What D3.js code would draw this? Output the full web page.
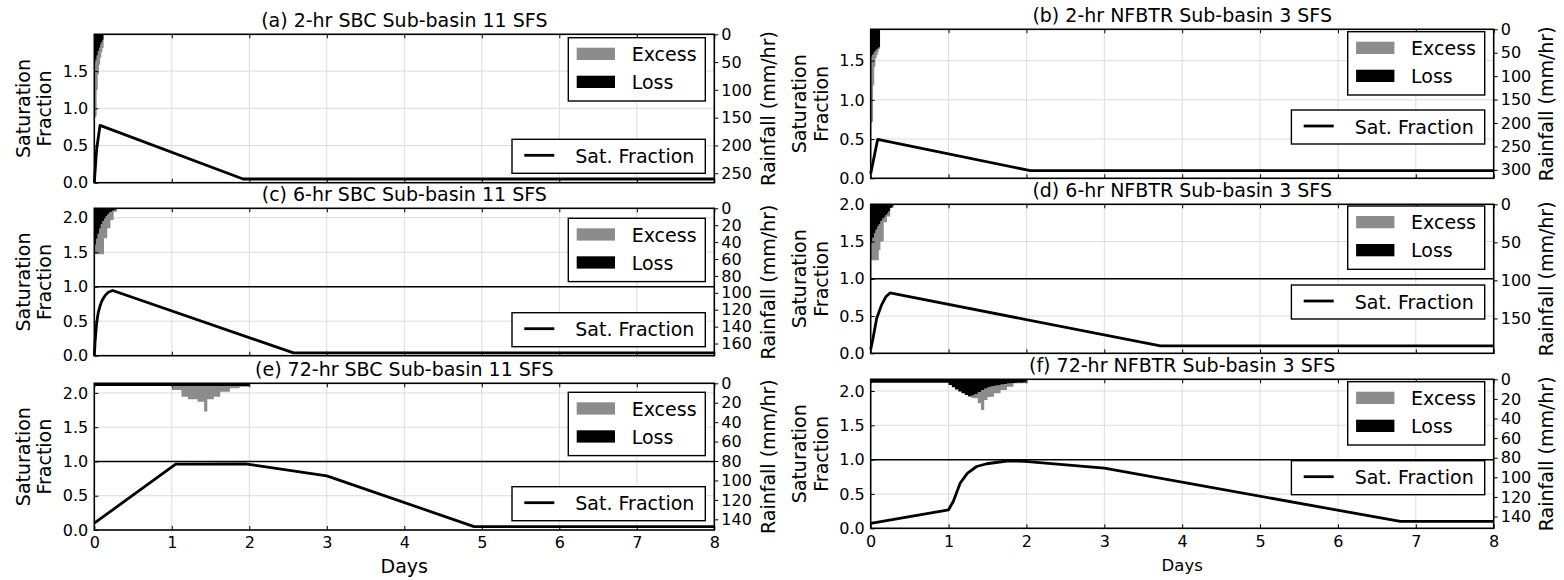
<!DOCTYPE html>
<html><head><meta charset="utf-8">
<script src="https://cdn.jsdelivr.net/npm/d3@7"></script>
<style>body{margin:0;background:#fff;} svg text{font-family:"DejaVu Sans",sans-serif;fill:#000;}</style>
</head><body><svg id="chart" width="1564" height="580"></svg>
<script>
// ---------------- DATA ----------------
const titles = ["(a) 2-hr SBC Sub-basin 11 SFS","(b) 2-hr NFBTR Sub-basin 3 SFS","(c) 6-hr SBC Sub-basin 11 SFS","(d) 6-hr NFBTR Sub-basin 3 SFS","(e) 72-hr SBC Sub-basin 11 SFS","(f) 72-hr NFBTR Sub-basin 3 SFS"];
const dayTicks = [0,1,2,3,4,5,6,7,8];
const sfTicks15 = [0.0,0.5,1.0,1.5];
const sfTicks20 = [0.0,0.5,1.0,1.5,2.0];
const rainTicksA = [0,50,100,150,200,250];
const rainTicksB = [0,50,100,150,200,250,300];
const rainTicksC = [0,20,40,60,80,100,120,140,160];
const rainTicksD = [0,50,100,150];
const rainTicksEF = [0,20,40,60,80,100,120,140];
const legendLabels = ["Excess","Loss","Sat. Fraction"];

// saturation fraction series (days, fraction)
const satT_a = [0,0.03,0.074,1.92,8];
const satV_a = [0,0.45,0.77,0.05,0.05];
const satT_b = [0,0.09,2.05,8];
const satV_b = [0.06,0.497,0.097,0.097];
const satT_c = [0,0.01,0.03,0.05,0.074,0.1,0.138,0.18,0.237,2.57,8];
const satV_c = [0,0.2,0.47,0.62,0.72,0.8,0.87,0.92,0.945,0.04,0.04];
const satT_d = [0,0.033,0.077,0.14,0.196,0.248,3.72,8];
const satV_d = [0.05,0.22,0.47,0.65,0.76,0.81,0.1,0.1];
const satT_e = [0,1.05,1.95,3.0,4.9,8];
const satV_e = [0.1,0.96,0.965,0.79,0.05,0.05];
const satT_f = [0,1.0,1.06,1.15,1.24,1.36,1.49,1.75,1.98,3.0,6.8,8];
const satV_f = [0.07,0.27,0.39,0.66,0.8,0.9,0.94,0.98,0.975,0.875,0.1,0.1];

// hyetographs: bar edges (days), total rainfall and loss (mm/hr)
const rainEdges_ab = [0,0.015,0.03,0.045,0.06,0.075,0.09,0.105,0.12];
const rainTotal_a = [150,148,100,72,55,42,32,24];
const rainLoss_a  = [52,46,38,30,24,18,14,10];
const rainTotal_b = [200,198,120,80,62,55,48,42];
const rainLoss_b  = [58,55,52,48,45,42,40,38];
const rainEdges_cd = [0,0.021,0.042,0.062,0.083,0.104,0.125,0.146,0.167,0.188,0.208,0.229,0.25,0.271,0.292];
const rainTotal_c = [54.5,54.5,54.5,54.5,54.5,54.5,35.5,35.5,23.7,23.7,13.9,13.9,4,4];
const rainLoss_c  = [43,36,30,24,19,15,12,9,7,5,4,3,2,1.5];
const rainTotal_d = [73.6,73.6,73.6,73.6,73.6,60,48.8,48.8,23.5,23.5,16,16,5,5];
const rainLoss_d  = [51,44,38,33,29,26,22,19,17,14,12,9,5,3];
const rainEdges_ef = [0,1.0,1.042,1.083,1.125,1.167,1.208,1.25,1.292,1.333,1.375,1.417,1.458,1.5,1.542,1.583,1.625,1.667,1.708,1.75,1.792,1.833,1.875,1.917,1.958,2.0];
const rainTotal_e = [2.8,7,7,7,13.8,13.8,16.5,16.5,16.5,19,19,29,16.5,16.5,13.8,13.8,8.6,8.6,8.6,5.2,5.2,5.2,3.6,3.6,3.6];
const rainLoss_e  = [2.8,2.8,2.8,2.8,2.8,2.8,2.8,2.8,2.8,2.8,2.8,2.8,2.8,2.8,2.8,2.8,2.8,2.8,2.8,2.8,2.8,2.8,2.8,2.8,2.8];
const rainTotal_f = [3.4,5.8,8,10.5,12.5,14.3,16,18,19,19.4,24.5,31.3,21,18,17.8,14.3,14.3,10.9,10.9,7.5,7.5,4,4,4,4];
const rainLoss_f  = [3.4,5.8,8,10.5,12.5,14.3,16,17,16.5,15,13,11,9.5,8,7,6.5,6,5.3,4.8,4.4,4,3.8,3.6,3.4,3.2];

// ---------------- LAYOUT ----------------
const colL = {x0:94.3, x1:714.3, lab1:22.5, lab2:44, rlab:767.5, daysSize:19};
const colR = {x0:870.7, x1:1493.7, lab1:799, lab2:821, rlab:1546, daysSize:16.5};
const panels = [
 {col:colL, y0:34.3, y1:182.7, sfMax:1.995, rainMax:267, sfTicks:sfTicks15, rainTicks:rainTicksA, satT:satT_a, satV:satV_a, edges:rainEdges_ab, total:rainTotal_a, loss:rainLoss_a, one:false, legTop:3.4, leg2Top:105, bottom:false},
 {col:colR, y0:29.3, y1:178.3, sfMax:1.90, rainMax:318, sfTicks:sfTicks15, rainTicks:rainTicksB, satT:satT_b, satV:satV_b, edges:rainEdges_ab, total:rainTotal_b, loss:rainLoss_b, one:false, legTop:2.4, leg2Top:80.7, bottom:false},
 {col:colL, y0:208.3, y1:355.7, sfMax:2.136, rainMax:174.4, sfTicks:sfTicks20, rainTicks:rainTicksC, satT:satT_c, satV:satV_c, edges:rainEdges_cd, total:rainTotal_c, loss:rainLoss_c, one:true, legTop:10, leg2Top:104.4, bottom:false},
 {col:colR, y0:204.3, y1:353.3, sfMax:2.0, rainMax:195.8, sfTicks:sfTicks20, rainTicks:rainTicksD, satT:satT_d, satV:satV_d, edges:rainEdges_cd, total:rainTotal_d, loss:rainLoss_d, one:true, legTop:1.7, leg2Top:80.7, bottom:false},
 {col:colL, y0:383.3, y1:530, sfMax:2.14, rainMax:151, sfTicks:sfTicks20, rainTicks:rainTicksEF, satT:satT_e, satV:satV_e, edges:rainEdges_ef, total:rainTotal_e, loss:rainLoss_e, one:true, legTop:9, leg2Top:103.4, bottom:true},
 {col:colR, y0:379.3, y1:528.3, sfMax:2.17, rainMax:152, sfTicks:sfTicks20, rainTicks:rainTicksEF, satT:satT_f, satV:satV_f, edges:rainEdges_ef, total:rainTotal_f, loss:rainLoss_f, one:true, legTop:2.4, leg2Top:81.4, bottom:true}
];
const GREY = "#8c8c8c";
const svg = d3.select("#chart");

function styleAxis(sel, size){
  sel.attr("font-family",null).attr("font-size",null);
  sel.select(".domain").remove();
  sel.selectAll("text").style("font-size",size+"px");
  sel.selectAll("line").attr("stroke","#000").attr("stroke-width",1);
}

panels.forEach((p,i)=>{
  const c = p.col;
  const g = svg.append("g");
  const x = d3.scaleLinear().domain([0,8]).range([c.x0,c.x1]);
  const y = d3.scaleLinear().domain([0,p.sfMax]).range([p.y1,p.y0]);
  const r = d3.scaleLinear().domain([0,p.rainMax]).range([p.y0,p.y1]);

  // grid
  g.append("g").selectAll("line").data(dayTicks.filter(d=>d>0&&d<8)).join("line")
    .attr("x1",d=>x(d)).attr("x2",d=>x(d)).attr("y1",p.y0).attr("y2",p.y1)
    .attr("stroke","#dcdcdc").attr("stroke-width",1);
  g.append("g").selectAll("line").data(p.sfTicks.filter(d=>d>0&&d<p.sfMax)).join("line")
    .attr("x1",c.x0).attr("x2",c.x1).attr("y1",d=>y(d)).attr("y2",d=>y(d))
    .attr("stroke","#dcdcdc").attr("stroke-width",1);

  // hyetograph as stepped areas
  const pts = p.edges.map((e,k)=>{
    const idx = Math.min(k,p.total.length-1);
    return {t:e, total:p.total[idx], loss:p.loss[idx]};
  });
  const excessArea = d3.area().curve(d3.curveStepAfter)
    .x(d=>x(d.t)).y0(d=>r(d.loss)).y1(d=>r(d.total));
  const lossArea = d3.area().curve(d3.curveStepAfter)
    .x(d=>x(d.t)).y0(()=>r(0)).y1(d=>r(d.loss));
  g.append("path").datum(pts).attr("d",excessArea).attr("fill",GREY);
  g.append("path").datum(pts).attr("d",lossArea).attr("fill","#000");

  // line at saturation 1.0
  if(p.one){
    g.append("line").attr("x1",c.x0).attr("x2",c.x1).attr("y1",y(1)).attr("y2",y(1))
      .attr("stroke","#000").attr("stroke-width",1.5);
  }

  // saturation fraction
  const sat = p.satT.map((t,k)=>[t,p.satV[k]]);
  g.append("path").datum(sat)
    .attr("d",d3.line().x(d=>x(d[0])).y(d=>y(d[1])))
    .attr("fill","none").attr("stroke","#000").attr("stroke-width",2.8).attr("stroke-linejoin","round");

  // axes
  const ax = g.append("g").attr("transform",`translate(${c.x0},0)`)
    .call(d3.axisLeft(y).tickValues(p.sfTicks).tickSize(-4).tickPadding(6).tickFormat(d3.format(".1f")));
  styleAxis(ax,16);
  const ar = g.append("g").attr("transform",`translate(${c.x1},0)`)
    .call(d3.axisRight(r).tickValues(p.rainTicks).tickSize(4).tickPadding(3));
  styleAxis(ar,16);
  const at = g.append("g").attr("transform",`translate(0,${p.y0})`)
    .call(d3.axisTop(x).tickValues(dayTicks).tickSize(-4).tickFormat(""));
  styleAxis(at,16);
  const ab = g.append("g").attr("transform",`translate(0,${p.y1})`)
    .call(d3.axisBottom(x).tickValues(dayTicks).tickSize(-4).tickPadding(7).tickFormat(p.bottom?d3.format("d"):""));
  styleAxis(ab,16);

  // frame
  g.append("rect").attr("x",c.x0).attr("y",p.y0).attr("width",c.x1-c.x0).attr("height",p.y1-p.y0)
    .attr("fill","none").attr("stroke","#000").attr("stroke-width",1.6);

  // title
  g.append("text").attr("x",(c.x0+c.x1)/2).attr("y",p.y0-7).attr("text-anchor","middle")
    .style("font-size","19px").text(titles[i]);

  // y labels
  const cy = (p.y0+p.y1)/2;
  [["Saturation",c.lab1],["Fraction",c.lab2]].forEach(([t,xx])=>{
    g.append("text").attr("transform",`translate(${xx},${cy}) rotate(-90)`)
      .attr("text-anchor","middle").attr("dominant-baseline","central")
      .style("font-size","19px").text(t);
  });
  g.append("text").attr("transform",`translate(${c.rlab},${cy}) rotate(-90)`)
    .attr("text-anchor","middle").attr("dominant-baseline","central")
    .style("font-size","19px").text("Rainfall (mm/hr)");

  // upper legend
  const bw=137, bh=63.3;
  const bx = c.x1-9-bw, by = p.y0+p.legTop;
  const lg = g.append("g");
  lg.append("rect").attr("x",bx).attr("y",by).attr("width",bw).attr("height",bh)
    .attr("fill","#fff").attr("stroke","#000").attr("stroke-width",1.4);
  [[GREY,legendLabels[0],10],["#000",legendLabels[1],38]].forEach(([col,lab,off])=>{
    lg.append("rect").attr("x",bx+8.4).attr("y",by+off).attr("width",38.3).attr("height",12.3).attr("fill",col);
    lg.append("text").attr("x",bx+63.4).attr("y",by+off+6.2).attr("dominant-baseline","central")
      .style("font-size","19px").text(lab);
  });
  // lower legend
  const b2w=193.3, b2h=34;
  const b2x = c.x1-9-b2w, b2y = p.y0+p.leg2Top;
  lg.append("rect").attr("x",b2x).attr("y",b2y).attr("width",b2w).attr("height",b2h)
    .attr("fill","#fff").attr("stroke","#000").attr("stroke-width",1.4);
  lg.append("line").attr("x1",b2x+12.3).attr("x2",b2x+42.3).attr("y1",b2y+16).attr("y2",b2y+16)
    .attr("stroke","#000").attr("stroke-width",2.8);
  lg.append("text").attr("x",b2x+63.3).attr("y",b2y+16.5).attr("dominant-baseline","central")
    .style("font-size","19px").text(legendLabels[2]);

  if(p.bottom){
    g.append("text").attr("x",(c.x0+c.x1)/2).attr("y",p.y1+43).attr("text-anchor","middle")
      .style("font-size",c.daysSize+"px").text("Days");
  }
});
</script></body></html>
